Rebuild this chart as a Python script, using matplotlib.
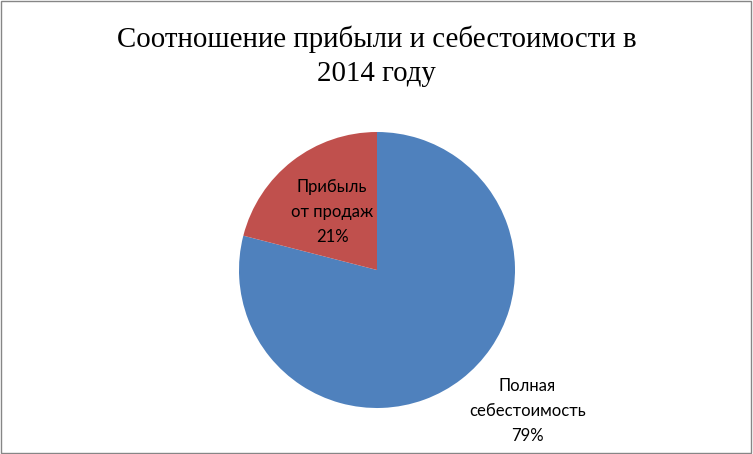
import matplotlib.pyplot as plt
from matplotlib.patches import Rectangle

# data
categories = ["Полная\nсебестоимость", "Прибыль\nот продаж"]
shares = [79, 21]
colors = ["#4F81BD", "#C0504D"]
title = "Соотношение прибыли и себестоимости в\n2014 году"

fig = plt.figure(figsize=(7.53, 4.54), dpi=100)
fig.patch.set_facecolor("white")
fig.add_artist(Rectangle((0.001, 0.002), 0.997, 0.995, transform=fig.transFigure,
                         fill=False, edgecolor="#868686", linewidth=1))

# pie centred at about (377, 270) px, radius ~138 px
ax = fig.add_axes([239 / 753, 46 / 454, 276 / 753, 276 / 454])
wedges, texts = ax.pie(
    shares,
    colors=colors,
    startangle=90,
    counterclock=False,
    radius=1,
    labels=[f"{c}\n{s}%" for c, s in zip(categories, shares)],
    labeldistance=0.53,
    textprops=dict(fontsize=12, family=["Lato", "DejaVu Sans"],
                   ha="center", va="center", linespacing=1.7),
)
ax.set_xlim(-1, 1)
ax.set_ylim(-1, 1)
ax.set_aspect("equal")

# outer label for the big slice
texts[0].set_position((1.09, -1.02))

fig.text(0.5, 0.877, title, ha="center", va="center", fontsize=20.8,
         family=["Liberation Serif", "DejaVu Serif"], linespacing=1.4)

fig.savefig("out.png", dpi=100)
